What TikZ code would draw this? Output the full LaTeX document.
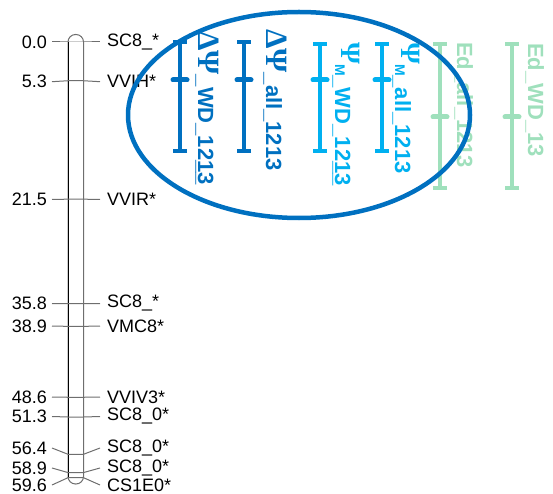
\documentclass[tikz,border=0pt]{standalone}
\usepackage{fontspec}
\setmainfont{Liberation Sans}
\newfontfamily\grkfont{Liberation Serif}
\usepackage{tikz}
\usetikzlibrary{arrows.meta}
\definecolor{cdark}{HTML}{0070C0}
\definecolor{clight}{HTML}{00B0F0}
\definecolor{cgreen}{HTML}{9FE0BC}
\definecolor{cline}{HTML}{6E6E6E}
\newcommand{\bigpsi}[1]{{\grkfont\bfseries\fontsize{#1}{#1}\selectfont Ψ}}
\tikzset{
  cmlab/.style={font=\fontsize{18}{20}\selectfont, anchor=east, inner xsep=5pt, inner ysep=0pt},
  mklab/.style={font=\fontsize{18}{20}\selectfont, anchor=west, inner xsep=7pt, inner ysep=0pt},
  qbar/.style={line width=4pt, {Bar[width=14pt]}-{Bar[width=14pt]}},
  qmid/.style={line width=5pt, line cap=round},
  qlab/.style={font=\fontsize{22}{22}\selectfont\bfseries, rotate=-90, anchor=base west, inner sep=0pt},
}

\begin{document}
\begin{tikzpicture}[x=1pt, y=-1pt]
\useasboundingbox (0,0) rectangle (553,494);

% linkage group
\draw[cline, line width=1pt, rounded corners=7.5pt] (68,34.5) rectangle (83.5,484);
\draw[black, line width=1pt] (68,42) -- (68,477);

\foreach \cmv/\ly/\nm [count=\i] in {0.0/42/SC8\_*, 5.3/81.7/VVIH*, 21.5/199.5/VVIR*,
    35.8/303.5/SC8\_*, 38.9/326/VMC8*, 48.6/397/VVIV3*, 51.3/416.5/SC8\_0*,
    56.4/448/SC8\_0*, 58.9/468/SC8\_0*, 59.6/485/CS1E0*} {
  \node[cmlab] (p\i) at (52,\ly) {\cmv};
  \node[mklab] (m\i) at (100,\ly) {\nm};
  \draw[cline, line width=1pt] (p\i.east) -- (68,{42+7.31*\cmv}) -- (83.5,{42+7.31*\cmv}) -- (m\i.west);
}

% QTL intervals
\foreach \x/\yt/\yb/\ym/\col in {180/40/153/80/cdark, 244/40/153/80/cdark,
    320/42/153/80/clight, 382/42/153/80/clight,
    440/42/190/117/cgreen, 512/42/190/117/cgreen} {
  \draw[qbar, \col] (\x,\yt) -- (\x,\yb);
  \draw[qmid, \col] (\x-7,\ym) -- (\x+7,\ym);
}

\node[qlab, text=cdark] (q1) at (198,31) {{\grkfont\fontsize{31}{31}\selectfont ΔΨ}\_WD\_12\rlap{\_\_}13};
\node[qlab, text=cdark] (q2) at (266,29) {{\grkfont\fontsize{31}{31}\selectfont ΔΨ}\_all\_1213};
\node[qlab, text=clight] (q3) at (335,42) {\raisebox{6pt}{\bigpsi{28}}{\fontsize{14}{14}\selectfont M}\_WD\_12\rlap{\_\_}13};
\node[qlab, text=clight] (q4) at (395,42) {\raisebox{6pt}{\bigpsi{28}}{\fontsize{14}{14}\selectfont M}\_all\_1213};
\node[qlab, text=cgreen] (q5) at (457,42) {Ed\_all\_1213};
\node[qlab, text=cgreen] (q6) at (528,43) {Ed\_WD\_13};

\draw[cdark, line width=4.5pt] (299,115) ellipse [x radius=171, y radius=103];

\end{tikzpicture}
\end{document}
